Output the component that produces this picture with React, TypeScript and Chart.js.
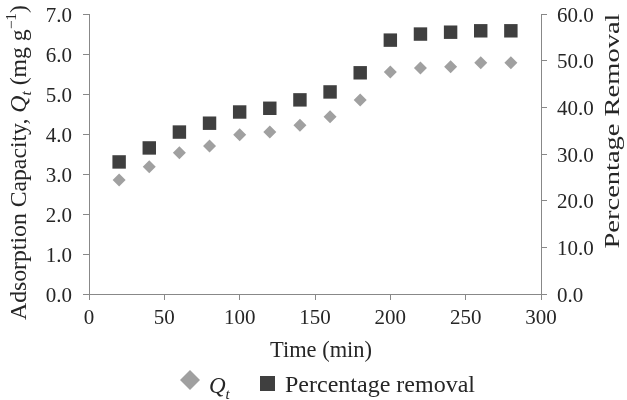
import React, { useEffect, useRef } from "react";
import { Chart, registerables } from "chart.js";

Chart.register(...registerables);

const times = [20, 40, 60, 80, 100, 120, 140, 160, 180, 200, 220, 240, 260, 280];
const qtValues = [2.85, 3.18, 3.53, 3.7, 3.98, 4.05, 4.22, 4.43, 4.85, 5.55, 5.65, 5.68, 5.78, 5.78];
const removalValues = [28.3, 31.3, 34.7, 36.6, 39.0, 39.8, 41.6, 43.3, 47.4, 54.4, 55.7, 56.1, 56.4, 56.4];

const FONT = "'Liberation Serif', 'Times New Roman', serif";
const TICK_SIZE = 21;
const TITLE_SIZE = 23;
const QT_COLOR = "#a0a0a0";
const PR_COLOR = "#3f3f3f";
const AXIS_COLOR = "#888888";
const TEXT_COLOR = "#262626";

type Seg = { t: string; italic?: boolean; shift?: number; scale?: number };

function drawRich(
  ctx: CanvasRenderingContext2D,
  segs: Seg[],
  cx: number,
  cy: number,
  rot: number,
  size: number,
  targetLen?: number
) {
  ctx.save();
  ctx.translate(cx, cy);
  ctx.rotate(rot);
  ctx.fillStyle = TEXT_COLOR;
  ctx.textBaseline = "alphabetic";
  ctx.textAlign = "left";
  const fontFor = (s: Seg) => `${s.italic ? "italic " : ""}${Math.round(size * (s.scale || 1))}px ${FONT}`;
  let total = 0;
  const widths = segs.map((s) => {
    ctx.font = fontFor(s);
    const w = ctx.measureText(s.t).width;
    total += w;
    return w;
  });
  if (targetLen) ctx.scale(targetLen / total, 1);
  let x = -total / 2;
  const base = size * 0.33;
  segs.forEach((s, i) => {
    ctx.font = fontFor(s);
    ctx.fillText(s.t, x, base + (s.shift || 0) * size);
    x += widths[i];
  });
  ctx.restore();
}

const customText = {
  id: "customText",
  afterDraw(chart: any) {
    const ctx = chart.ctx as CanvasRenderingContext2D;
    drawRich(
      ctx,
      [
        { t: "Adsorption Capacity, " },
        { t: "Q", italic: true },
        { t: "t", italic: true, shift: 0.25, scale: 0.65 },
        { t: " (mg g" },
        { t: "\u22121", shift: -0.4, scale: 0.65 },
        { t: ")" },
      ],
      18,
      162.5,
      -Math.PI / 2,
      TITLE_SIZE,
      315
    );
    drawRich(ctx, [{ t: "Percentage Removal" }], 612, 131, -Math.PI / 2, 21, 235);
    drawRich(ctx, [{ t: "Time (min)" }], 321, 349, 0, TITLE_SIZE, 102);

    ctx.save();
    ctx.fillStyle = QT_COLOR;
    ctx.beginPath();
    const dx = 190, dy = 380, dr = 10;
    ctx.moveTo(dx - dr, dy);
    ctx.lineTo(dx, dy - dr);
    ctx.lineTo(dx + dr, dy);
    ctx.lineTo(dx, dy + dr);
    ctx.closePath();
    ctx.fill();
    ctx.fillStyle = TEXT_COLOR;
    ctx.textBaseline = "alphabetic";
    ctx.textAlign = "left";
    ctx.font = `italic ${TITLE_SIZE}px ${FONT}`;
    ctx.fillText("Q", 209, 393);
    const qw = ctx.measureText("Q").width;
    ctx.font = `italic ${Math.round(TITLE_SIZE * 0.65)}px ${FONT}`;
    ctx.fillText("t", 209 + qw, 399);
    ctx.fillStyle = PR_COLOR;
    ctx.fillRect(260, 376, 15, 15);
    ctx.fillStyle = TEXT_COLOR;
    ctx.font = `${TITLE_SIZE}px ${FONT}`;
    const label = "Percentage removal";
    const lw = ctx.measureText(label).width;
    ctx.translate(285, 392);
    ctx.scale(190 / lw, 1);
    ctx.fillText(label, 0, 0);
    ctx.restore();
  },
};

const zeroPad = (s: any) => {
  s.paddingTop = 0;
  s.paddingBottom = 0;
};

export default function App() {
  const ref = useRef<HTMLCanvasElement | null>(null);
  useEffect(() => {
    if (!ref.current) return;
    const tickFont = { family: FONT, size: TICK_SIZE };
    const chart = new Chart(ref.current, {
      type: "scatter",
      data: {
        datasets: [
          {
            label: "Qt",
            data: times.map((t, i) => ({ x: t, y: qtValues[i] })),
            yAxisID: "y",
            pointStyle: "rectRot",
            pointRadius: 6.5,
            pointHoverRadius: 6.5,
            backgroundColor: QT_COLOR,
            borderColor: QT_COLOR,
            borderWidth: 0,
          },
          {
            label: "Percentage removal",
            data: times.map((t, i) => ({ x: t, y: removalValues[i] })),
            yAxisID: "y1",
            pointStyle: "rect",
            pointRadius: 9.5,
            pointHoverRadius: 9.5,
            backgroundColor: PR_COLOR,
            borderColor: PR_COLOR,
            borderWidth: 0,
          },
        ],
      },
      options: {
        responsive: false,
        animation: false,
        layout: { padding: { top: 14, left: 0, right: 0, bottom: 0 } },
        plugins: { legend: { display: false }, tooltip: { enabled: false } },
        scales: {
          x: {
            type: "linear",
            min: 0,
            max: 300,
            ticks: { stepSize: 50, font: tickFont, color: TEXT_COLOR, padding: 6, maxRotation: 0 },
            grid: { drawOnChartArea: false, drawTicks: true, tickLength: 6, color: AXIS_COLOR },
            border: { display: true, color: AXIS_COLOR },
            afterFit: (s: any) => {
              s.height = 106;
              s.paddingLeft = 0;
              s.paddingRight = 0;
            },
          },
          y: {
            type: "linear",
            position: "left",
            min: 0,
            max: 7,
            ticks: {
              stepSize: 1,
              font: tickFont,
              color: TEXT_COLOR,
              padding: 11,
              labelOffset: 2,
              callback: (v: any) => Number(v).toFixed(1),
            },
            grid: { drawOnChartArea: false, drawTicks: true, tickLength: 6, color: AXIS_COLOR },
            border: { display: true, color: AXIS_COLOR },
            afterFit: (s: any) => {
              s.width = 89;
              zeroPad(s);
            },
          },
          y1: {
            type: "linear",
            position: "right",
            min: 0,
            max: 60,
            ticks: {
              stepSize: 10,
              font: tickFont,
              color: TEXT_COLOR,
              padding: 10,
              labelOffset: 2,
              callback: (v: any) => Number(v).toFixed(1),
            },
            grid: { drawOnChartArea: false, drawTicks: true, tickLength: 6, color: AXIS_COLOR },
            border: { display: true, color: AXIS_COLOR },
            afterFit: (s: any) => {
              s.width = 86;
              zeroPad(s);
            },
          },
        },
      },
      plugins: [customText],
    } as any);
    return () => chart.destroy();
  }, []);
  return (
    <div style={{ height: 384 }}>
      <canvas
        ref={ref}
        width={627}
        height={400}
        style={{ display: "block", position: "fixed", top: 0, left: 0 }}
      />
    </div>
  );
}
